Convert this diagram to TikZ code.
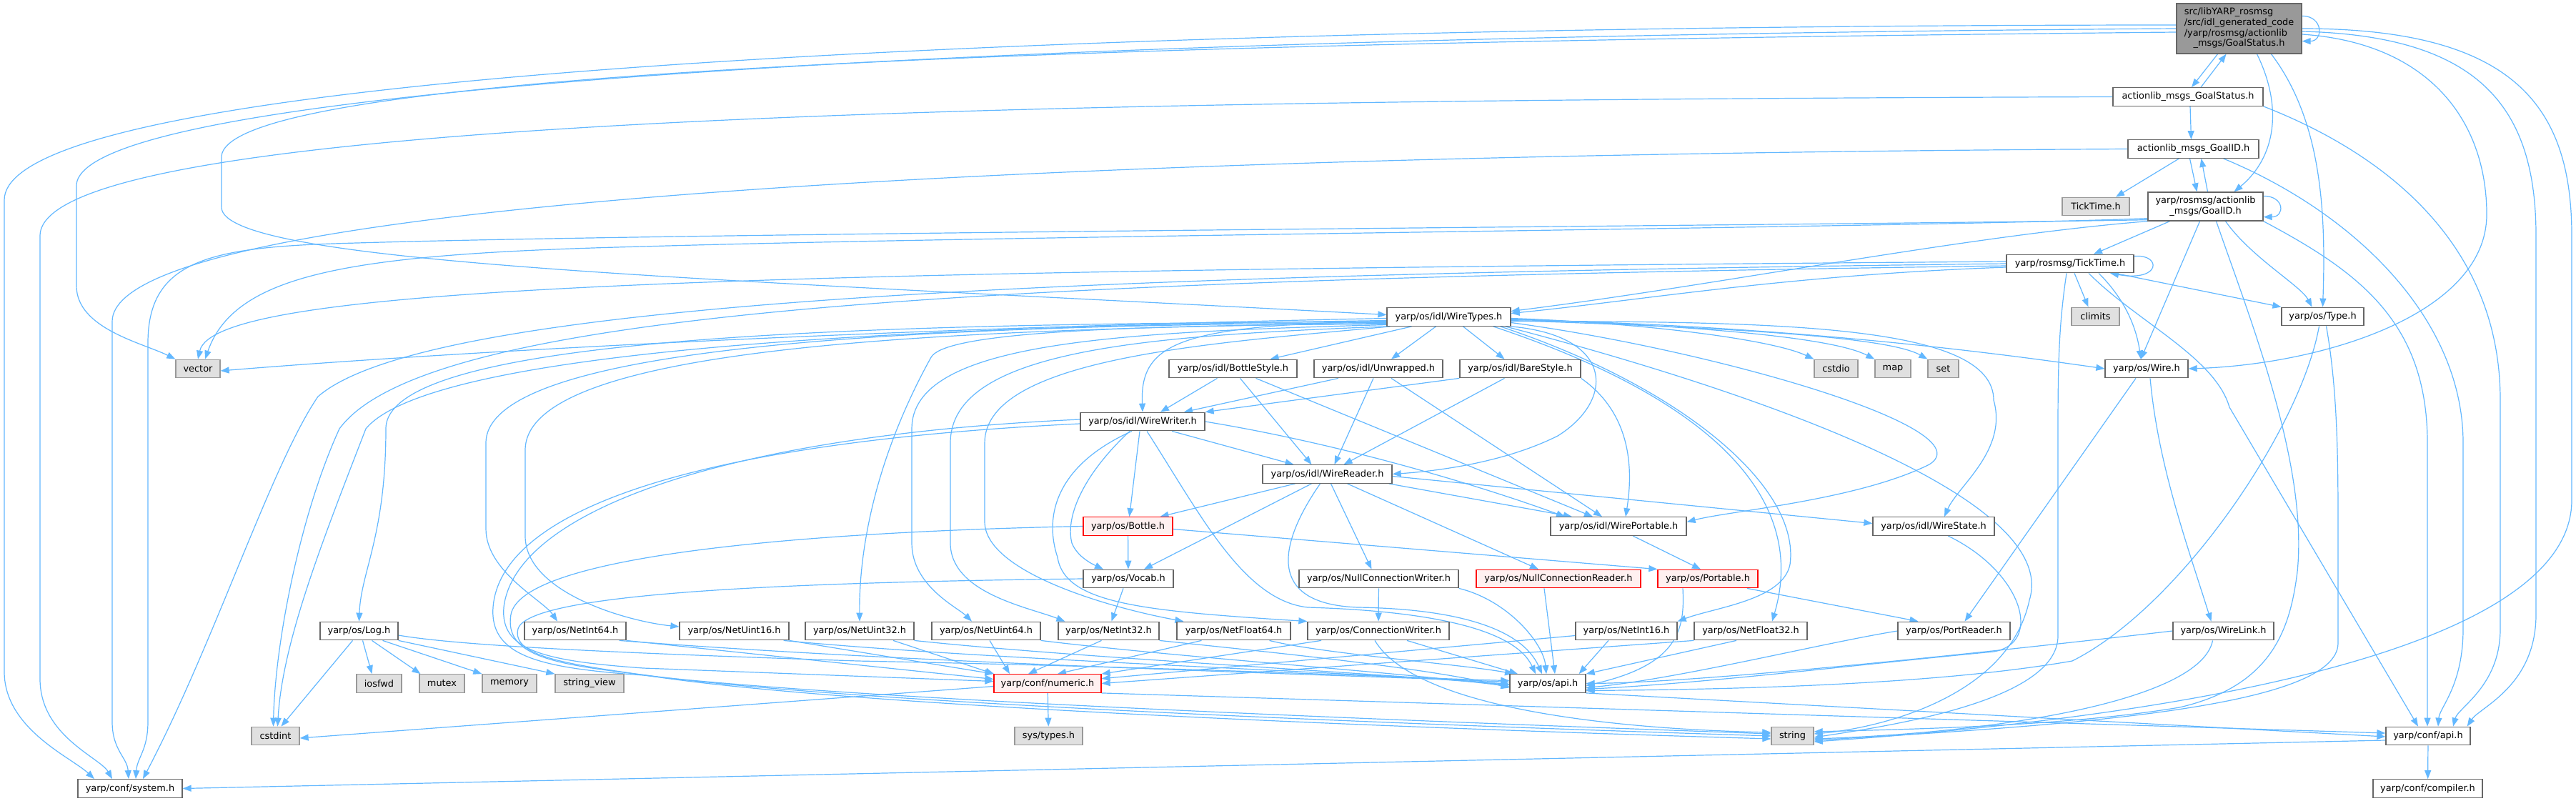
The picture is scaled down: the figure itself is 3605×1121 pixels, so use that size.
\documentclass[tikz,border=0pt]{standalone}
\usepackage{fontspec}
\setmainfont{DejaVu Sans}
\usetikzlibrary{arrows.meta}
\definecolor{edgec}{HTML}{63B8FF}
\definecolor{nodeb}{HTML}{666666}
\definecolor{extb}{HTML}{999999}
\definecolor{extf}{HTML}{E0E0E0}
\definecolor{rootf}{HTML}{999999}
\definecolor{truncf}{HTML}{FFF0F0}
\newcommand\grfont{\fontsize{12.9pt}{14.7pt}\selectfont}
\pgfdeclarelayer{bgl}
\pgfdeclarelayer{edgel}
\pgfsetlayers{bgl,edgel,main}
\tikzset{
 nbox/.style={draw=nodeb, fill=white, line width=1.3pt, minimum height=25.5pt, inner sep=0pt, font=\grfont, text=black},
 ext/.style={nbox, draw=extb, fill=extf},
 trunc/.style={nbox, draw=red, fill=truncf},
 rootbox/.style={nbox, fill=rootf},
 edge/.style={draw=edgec, line width=1.2pt, -{Triangle[length=12pt,width=9pt]}},
}
\begin{document}
\begin{tikzpicture}[x=1pt,y=-1pt]
\useasboundingbox (0,0) rectangle (3605,1121);
\begin{pgfonlayer}{bgl}
\fill[white] (0,0) rectangle (3605,1121);
\end{pgfonlayer}
% ---------- nodes ----------
\node[rootbox, minimum width=175pt, minimum height=70pt] (R) at (3133.5,40) {\begin{tabular}{@{}l@{}}src/libYARP\_rosmsg\\/src/idl\_generated\_code\\/yarp/rosmsg/actionlib\\\multicolumn{1}{@{}c@{}}{\_msgs/GoalStatus.h}\end{tabular}};
\node[nbox, minimum width=210pt] (actGS) at (3062,135.5) {actionlib\_msgs\_GoalStatus.h};
\node[nbox, minimum width=183pt] (actGID) at (3069.5,208.5) {actionlib\_msgs\_GoalID.h};
\node[ext, minimum width=94pt] (TTg) at (2933,289) {TickTime.h};
\node[nbox, minimum width=161pt, minimum height=40pt] (rGID) at (3086.5,289) {\begin{tabular}{@{}l@{}}yarp/rosmsg/actionlib\\\multicolumn{1}{@{}c@{}}{\_msgs/GoalID.h}\end{tabular}};
\node[nbox, minimum width=178pt] (rTT) at (2897,369) {yarp/rosmsg/TickTime.h};
\node[ext, minimum width=67pt] (climits) at (2932.5,443) {climits};
\node[nbox, minimum width=115pt] (Type) at (3250.5,443) {yarp/os/Type.h};
\node[ext, minimum width=61pt] (cstdio) at (2569.5,516) {cstdio};
\node[ext, minimum width=50pt] (map) at (2649,516) {map};
\node[ext, minimum width=43pt] (set) at (2719.5,516) {set};
\node[nbox, minimum width=116pt] (Wire) at (3004,516) {yarp/os/Wire.h};
\node[nbox, minimum width=173pt] (WT) at (2027.5,443.5) {yarp/os/idl/WireTypes.h};
\node[ext, minimum width=62pt] (vector) at (277,516) {vector};
\node[nbox, minimum width=179pt] (BS) at (1725.5,516) {yarp/os/idl/BottleStyle.h};
\node[nbox, minimum width=180pt] (UW) at (1929,516) {yarp/os/idl/Unwrapped.h};
\node[nbox, minimum width=169pt] (BaS) at (2127.5,516) {yarp/os/idl/BareStyle.h};
\node[nbox, minimum width=174pt] (WW) at (1599,590) {yarp/os/idl/WireWriter.h};
\node[nbox, minimum width=181pt] (WR) at (1857.5,663.5) {yarp/os/idl/WireReader.h};
\node[trunc, minimum width=125pt] (Bottle) at (1578.5,736.5) {yarp/os/Bottle.h};
\node[nbox, minimum width=190pt] (WP) at (2265,736.5) {yarp/os/idl/WirePortable.h};
\node[nbox, minimum width=170pt] (WS) at (2706,736.5) {yarp/os/idl/WireState.h};
\node[nbox, minimum width=126pt] (Vocab) at (1579,810) {yarp/os/Vocab.h};
\node[nbox, minimum width=223pt] (NCW) at (1929.5,810) {yarp/os/NullConnectionWriter.h};
\node[trunc, minimum width=230pt] (NCR) at (2181,810) {yarp/os/NullConnectionReader.h};
\node[trunc, minimum width=140pt] (Portable) at (2390,810) {yarp/os/Portable.h};
\node[nbox, minimum width=109pt] (Log) at (502.5,883) {yarp/os/Log.h};
\node[nbox, minimum width=142pt] (NI64) at (805,883) {yarp/os/NetInt64.h};
\node[nbox, minimum width=153pt] (NU16) at (1027.5,883) {yarp/os/NetUint16.h};
\node[nbox, minimum width=152pt] (NU32) at (1203,883) {yarp/os/NetUint32.h};
\node[nbox, minimum width=152pt] (NU64) at (1380,883) {yarp/os/NetUint64.h};
\node[nbox, minimum width=141pt] (NI32) at (1551.5,883) {yarp/os/NetInt32.h};
\node[nbox, minimum width=159pt] (NF64) at (1726.5,883) {yarp/os/NetFloat64.h};
\node[nbox, minimum width=198pt] (CW) at (1929,883) {yarp/os/ConnectionWriter.h};
\node[nbox, minimum width=142pt] (NI16) at (2276,883) {yarp/os/NetInt16.h};
\node[nbox, minimum width=158pt] (NF32) at (2450,883) {yarp/os/NetFloat32.h};
\node[nbox, minimum width=157pt] (PR) at (2734.5,883) {yarp/os/PortReader.h};
\node[nbox, minimum width=141pt] (WL) at (3111.5,883) {yarp/os/WireLink.h};
\node[ext, minimum width=63pt] (iosfwd) at (530.5,956.5) {iosfwd};
\node[ext, minimum width=63pt] (mutex) at (618.5,956.5) {mutex};
\node[ext, minimum width=76pt] (memory) at (713,956.5) {memory};
\node[ext, minimum width=96pt] (sview) at (825,956.5) {string\_view};
\node[trunc, minimum width=150pt] (numeric) at (1466,956.5) {yarp/conf/numeric.h};
\node[nbox, minimum width=106pt] (osapi) at (2166,956.5) {yarp/os/api.h};
\node[ext, minimum width=67pt] (cstdint) at (385.5,1030) {cstdint};
\node[ext, minimum width=95pt] (systypes) at (1467.5,1030) {sys/types.h};
\node[ext, minimum width=59pt] (string) at (2508.5,1030) {string};
\node[nbox, minimum width=118pt] (confapi) at (3398,1030) {yarp/conf/api.h};
\node[nbox, minimum width=146pt] (system) at (182,1103.5) {yarp/conf/system.h};
\node[nbox, minimum width=153pt] (compiler) at (3397.5,1103.5) {yarp/conf/compiler.h};
% ---------- edges ----------
\begin{pgfonlayer}{edgel}
% root
\draw[edge] ([xshift=-30pt]R.south) -- ([xshift=5pt]actGS.north);
\draw[edge] ([xshift=18pt]actGS.north) -- ([xshift=-18pt]R.south);
\draw[edge] ([xshift=25pt]R.south) .. controls (3195,150) and (3185,220) .. ([xshift=40pt]rGID.north);
\draw[edge] ([xshift=45pt]R.south) .. controls (3250,170) and (3255,300) .. (Type.north);
\draw[edge] ([yshift=-18pt]R.north east) .. controls +(30,0) and +(30,0) .. ([yshift=18pt]R.south east);
\draw[edge] ([yshift=-8pt]R.east) .. controls (3400,60) and (3480,170) .. (3480,300) .. controls (3480,440) and (3250,510) .. (Wire.east);
\draw[edge] ([yshift=-4pt]R.east) .. controls (3470,50) and (3549,150) .. (3549,330) -- (3549,860) .. controls (3549,960) and (3470,990) .. ([xshift=-5pt]confapi.north east);
\draw[edge] (R.east) .. controls (3520,40) and (3599,150) .. (3599,330) -- (3599,700) .. controls (3599,900) and (3100,1000) .. ([yshift=-8pt]string.east);
\draw[edge] ([yshift=5pt]R.west) .. controls (2000,35) and (6,70) .. (6,280) -- (6,940) .. controls (6,1020) and (100,1060) .. ([xshift=-50pt]system.north);
\draw[edge] (R.west) .. controls (1600,50) and (107,110) .. (107,260) -- (107,400) .. controls (107,460) and (200,480) .. (vector.north west);
\draw[edge] ([yshift=-5pt]R.west) .. controls (1500,60) and (310,100) .. (310,220) -- (310,290) .. controls (310,370) and (1000,390) .. ([yshift=3pt]WT.west);
% actionlib_msgs_GoalStatus.h
\draw[edge] ([xshift=3pt]actGS.south) -- ([xshift=-3pt]actGID.north);
\draw[edge] (actGS.west) .. controls (1500,140) and (56,160) .. (56,330) -- (56,950) .. controls (56,1030) and (140,1060) .. ([xshift=-25pt]system.north);
\draw[edge] (actGS.south east) .. controls (3350,220) and (3499,350) .. (3499,560) -- (3499,880) .. controls (3499,960) and (3440,990) .. ([xshift=35pt]confapi.north);
% actionlib_msgs_GoalID.h
\draw[edge] ([xshift=-20pt]actGID.south) -- ([xshift=28pt]TTg.north);
\draw[edge] ([xshift=-5pt]actGID.south) -- ([xshift=-12pt]rGID.north);
\draw[edge] (actGID.west) .. controls (1800,215) and (157,260) .. (157,450) -- (157,1010) .. controls (157,1050) and (178,1060) .. ([xshift=-2pt]system.north);
\draw[edge] ([xshift=42pt]actGID.south) .. controls (3300,300) and (3447,450) .. (3447,620) -- (3447,880) .. controls (3447,960) and (3414,990) .. ([xshift=14pt]confapi.north);
% yarp/rosmsg/actionlib_msgs/GoalID.h
\draw[edge] ([xshift=3pt]rGID.north) -- ([xshift=11pt]actGID.south);
\draw[edge] ([yshift=-6pt]rGID.north east) .. controls +(30,0) and +(30,0) .. ([yshift=6pt]rGID.south east);
\draw[edge] ([xshift=-50pt]rGID.south) -- ([xshift=33pt]rTT.north);
\draw[edge] ([xshift=-8pt]rGID.south) -- ([xshift=-8pt]Wire.north);
\draw[edge] ([xshift=28pt]rGID.south) .. controls (3150,360) and (3220,400) .. ([xshift=-15pt]Type.north);
\draw[edge] ([xshift=15pt]rGID.south) .. controls (3150,450) and (3230,650) .. (3215,800) .. controls (3205,880) and (3180,960) .. (3050,990) .. controls (2900,1015) and (2700,1020) .. ([yshift=6pt]string.east);
\draw[edge] (rGID.south east) .. controls (3300,380) and (3397,450) .. (3397,620) -- ([xshift=-1pt]confapi.north);
\draw[edge] (rGID.south west) .. controls (2750,330) and (2400,400) .. ([yshift=8pt]WT.east);
\draw[edge] ([yshift=4pt]rGID.south west) .. controls (2700,318) and (1400,330) .. (900,345) .. controls (500,355) and (330,380) .. ([xshift=10pt]vector.north);
\draw[edge] ([yshift=2pt]rGID.south west) .. controls (2600,315) and (1000,325) .. (500,340) .. controls (300,345) and (207,360) .. (207,480) -- (207,1010) .. controls (207,1050) and (192,1060) .. ([xshift=8pt]system.north);
% yarp/rosmsg/TickTime.h
\draw[edge] ([yshift=-3pt]rTT.north east) .. controls (3025,355) and (3025,395) .. ([xshift=56pt]rTT.south);
\draw[edge] ([xshift=6pt]rTT.south) -- ([xshift=-10pt]climits.north);
\draw[edge] ([xshift=63pt]rTT.south) -- (Type.north west);
\draw[edge] ([xshift=40pt]rTT.south) .. controls (2975,420) and (2990,460) .. ([xshift=-8pt]Wire.north);
\draw[edge] ([xshift=-5pt]rTT.south) .. controls (2882,450) and (2880,500) .. (2880,600) -- (2880,890) .. controls (2880,980) and (2650,1015) .. ([yshift=-2pt]string.east);
\draw[edge] ([xshift=26pt]rTT.south) .. controls (2990,450) and (3100,500) .. (3120,570) -- ([xshift=-14pt]confapi.north);
\draw[edge] ([yshift=-5pt]rTT.west) .. controls (2500,385) and (2300,420) .. ([yshift=5pt]WT.east);
\draw[edge] ([yshift=3pt]rTT.west) .. controls (1000,380) and (300,400) .. (vector.north);
\draw[edge] (rTT.west) .. controls (1500,385) and (600,420) .. (445,555) .. controls (380,650) and (300,900) .. ([xshift=18pt]system.north);
\draw[edge] ([yshift=-3pt]rTT.west) .. controls (1400,392) and (600,430) .. (475,600) .. controls (420,720) and (385,900) .. ([xshift=-3pt]cstdint.north);
% Type.h
\draw[edge] ([xshift=-5pt]Type.south) .. controls (3220,600) and (3050,850) .. (2900,925) .. controls (2700,960) and (2400,965) .. ([yshift=-10pt]osapi.east);
\draw[edge] ([xshift=5pt]Type.south) .. controls (3272,550) and (3272,650) .. (3272,750) -- (3272,900) .. controls (3272,990) and (2900,1015) .. ([yshift=-6pt]string.east);
% Wire.h
\draw[edge] ([xshift=-15pt]Wire.south) -- ([xshift=15pt]PR.north);
\draw[edge] ([xshift=5pt]Wire.south) .. controls (3020,650) and (3060,760) .. ([xshift=-17pt]WL.north);
\draw[edge] (WL.west) .. controls (2850,905) and (2400,955) .. (osapi.east);
\draw[edge] ([xshift=-15pt]WL.south) .. controls (3080,980) and (2800,1025) .. ([yshift=-4pt]string.east);
\draw[edge] (PR.west) .. controls (2550,900) and (2350,950) .. ([yshift=-6pt]osapi.east);
\draw[edge] ([xshift=55pt]Portable.south) -- ([xshift=-50pt]PR.north);
\draw[edge] ([xshift=-35pt]Portable.south) .. controls (2358,880) and (2350,930) .. ([yshift=-3pt]osapi.east);
\draw[edge] ([xshift=20pt]WP.south) -- ([xshift=-10pt]Portable.north);
\draw[edge] ([xshift=20pt]WS.south) .. controls (2830,800) and (2860,900) .. (2790,912) .. controls (2600,930) and (2400,955) .. ([yshift=-8pt]osapi.east);
\draw[edge] ([xshift=-20pt]NCR.south) -- ([xshift=10pt]osapi.north);
\draw[edge] (NCW) -- (CW);
\draw[edge] (NCW.south east) .. controls (2110,840) and (2160,900) .. ([xshift=-2pt]osapi.north);
\draw[edge] ([xshift=-80pt]CW.south) -- (numeric.north east);
\draw[edge] ([xshift=40pt]CW.south) -- ([xshift=-42pt]osapi.north);
\draw[edge] ([xshift=-5pt]CW.south) .. controls (1980,990) and (2250,1020) .. ([yshift=5pt]string.west);
% Bottle, Vocab
\draw[edge] (Bottle) -- (Vocab);
\draw[edge] ([yshift=-4pt]Bottle.east) -- (Portable.north west);
\draw[edge] (Bottle.west) .. controls (1100,745) and (730,780) .. (715,860) .. controls (705,920) and (780,930) .. (905,945) .. controls (1200,985) and (2000,1015) .. (string.west);
\draw[edge] ([xshift=-7pt]Vocab.south) -- ([xshift=4pt]NI32.north);
\draw[edge] (Vocab.west) .. controls (1100,815) and (740,830) .. (725,880) .. controls (715,920) and (800,930) .. (910,946) .. controls (1200,990) and (2000,1020) .. ([yshift=-4pt]string.west);
% WireWriter
\draw[edge] ([xshift=41pt]WW.south) -- ([xshift=-47pt]WR.north);
\draw[edge] ([xshift=-4pt]WW.south) -- ([xshift=2pt]Bottle.north);
\draw[edge] ([xshift=-18pt]WW.south) .. controls (1520,660) and (1490,720) .. (1500,760) .. controls (1508,780) and (1530,790) .. ([xshift=-35pt]Vocab.north);
\draw[edge] (WW.east) .. controls (1900,625) and (2100,690) .. ([xshift=-75pt]WP.north);
\draw[edge] ([xshift=-15pt]WW.south) .. controls (1480,650) and (1460,720) .. (1480,780) .. controls (1490,845) and (1600,855) .. (CW.north west);
\draw[edge] ([xshift=6pt]WW.south) .. controls (1680,720) and (1740,840) .. (1830,850) .. controls (2000,855) and (2120,880) .. ([xshift=-17pt]osapi.north);
\draw[edge] ([yshift=3pt]WW.west) .. controls (1000,610) and (720,720) .. (705,850) .. controls (700,910) and (760,925) .. (900,935) -- ([yshift=3pt]numeric.west);
\draw[edge] ([yshift=-3pt]WW.west) .. controls (950,620) and (700,720) .. (690,850) .. controls (685,920) and (760,935) .. (900,945) .. controls (1200,980) and (2000,1010) .. ([yshift=3pt]string.west);
% WireReader
\draw[edge] ([xshift=-45pt]WR.south) -- ([xshift=45pt]Bottle.north);
\draw[edge] ([xshift=-22pt]WR.south) -- ([xshift=22pt]Vocab.north);
\draw[edge] ([xshift=-5pt]WR.south east) -- ([xshift=-65pt]WP.north);
\draw[edge] ([yshift=-3pt]WR.east) -- ([yshift=4pt]WS.west);
\draw[edge] ([xshift=28pt]WR.south) -- ([xshift=-28pt]NCR.north);
\draw[edge] ([xshift=5pt]WR.south) -- ([xshift=-10pt]NCW.north);
\draw[edge] ([xshift=-10pt]WR.south) .. controls (1790,760) and (1770,845) .. (1900,850) .. controls (2040,852) and (2130,880) .. ([xshift=-8pt]osapi.north);
% styles
\draw[edge] ([xshift=-22pt]BS.south) -- ([xshift=25pt]WW.north);
\draw[edge] ([xshift=10pt]BS.south) -- ([xshift=-22pt]WR.north);
\draw[edge] ([xshift=32pt]BS.south) -- ([xshift=-36pt]WP.north);
\draw[edge] ([xshift=-56pt]UW.south) -- ([xshift=58pt]WW.north);
\draw[edge] ([xshift=-7pt]UW.south) -- ([xshift=10pt]WR.north);
\draw[edge] ([xshift=18pt]UW.south) -- ([xshift=-23pt]WP.north);
\draw[edge] (BaS.south west) -- (WW.north east);
\draw[edge] ([xshift=-22pt]BaS.south) -- ([xshift=23pt]WR.north);
\draw[edge] (BaS.south east) .. controls (2285,580) and (2285,660) .. ([xshift=10pt]WP.north);
% WireTypes
\draw[edge] ([xshift=-52pt]WT.south) -- ([xshift=52pt]BS.north);
\draw[edge] ([xshift=-18pt]WT.south) -- ([xshift=18pt]UW.north);
\draw[edge] ([xshift=20pt]WT.south) -- ([xshift=-22pt]BaS.north);
\draw[edge] ([yshift=-6pt]WT.west) .. controls (1650,455) and (1595,480) .. (WW.north);
\draw[edge] (WT.south east) .. controls (2260,470) and (2260,560) .. (2180,610) .. controls (2100,650) and (2000,660) .. (WR.east);
\draw[edge] ([yshift=-8pt]WT.east) .. controls (2400,490) and (2780,600) .. (2700,650) .. controls (2600,700) and (2420,715) .. ([yshift=6pt]WP.east);
\draw[edge] ([yshift=-6pt]WT.east) .. controls (2500,450) and (2790,455) .. (2790,560) .. controls (2810,630) and (2740,680) .. ([xshift=15pt]WS.north);
\draw[edge] ([yshift=-2pt]WT.east) .. controls (2300,452) and (2480,475) .. (cstdio.north west);
\draw[edge] ([yshift=-3pt]WT.east) .. controls (2350,455) and (2560,470) .. (map.north west);
\draw[edge] ([yshift=-5pt]WT.east) .. controls (2400,458) and (2640,470) .. (set.north west);
\draw[edge] ([yshift=-4pt]WT.east) .. controls (2500,455) and (2800,495) .. (Wire.west);
\draw[edge] ([xshift=-8pt]WT.south east) .. controls (2350,520) and (2890,680) .. (2840,840) .. controls (2810,980) and (2620,1020) .. ([yshift=3pt]string.east);
\draw[edge] ([xshift=-15pt]WT.south east) .. controls (2350,540) and (2520,680) .. (2505,790) .. controls (2495,840) and (2400,850) .. (NI16.north east);
\draw[edge] ([xshift=-25pt]WT.south east) .. controls (2400,560) and (2530,700) .. ([xshift=30pt]NF32.north);
\draw[edge] ([yshift=-2pt]WT.west) .. controls (1200,460) and (600,495) .. ([yshift=-3pt]vector.east);
\draw[edge] ([yshift=-5pt]WT.west) .. controls (1500,455) and (620,470) .. (512,600) .. controls (450,760) and (395,900) .. ([xshift=3pt]cstdint.north);
\draw[edge] ([yshift=-7pt]WT.west) .. controls (1200,452) and (540,470) .. (540,600) .. controls (540,750) and (505,800) .. (Log.north);
\draw[edge] ([yshift=-8pt]WT.west) .. controls (1300,455) and (680,480) .. (680,620) -- (680,740) .. controls (680,800) and (760,840) .. ([xshift=-25pt]NI64.north);
\draw[edge] ([yshift=-9pt]WT.west) .. controls (1300,460) and (735,485) .. (735,630) -- (735,750) .. controls (735,830) and (880,870) .. ([yshift=6pt]NU16.west);
\draw[edge] ([yshift=-10pt]WT.west) .. controls (1500,455) and (1320,470) .. (1303,500) .. controls (1220,650) and (1202,780) .. (NU32.north);
\draw[edge] ([yshift=-11pt]WT.west) .. controls (1550,465) and (1276,480) .. (1276,600) -- (1276,760) .. controls (1276,820) and (1340,850) .. ([xshift=-20pt]NU64.north);
\draw[edge] (WT.south west) .. controls (1600,470) and (1330,490) .. (1330,620) -- (1330,760) .. controls (1330,830) and (1440,850) .. ([xshift=10pt]NI32.north west);
\draw[edge] ([xshift=5pt]WT.south west) .. controls (1700,480) and (1378,500) .. (1378,620) -- (1378,730) .. controls (1378,800) and (1550,850) .. ([xshift=10pt]NF64.north west);
% Log
\draw[edge] ([xshift=5pt]Log.south) -- ([xshift=-10pt]iosfwd.north);
\draw[edge] ([xshift=18pt]Log.south) -- ([xshift=-30pt]mutex.north);
\draw[edge] ([xshift=33pt]Log.south) -- (memory.north west);
\draw[edge] (Log.south east) -- (sview.north west);
\draw[edge] ([xshift=-9pt]Log.south) -- ([xshift=8pt]cstdint.north);
\draw[edge] ([yshift=-6pt]Log.east) .. controls (650,905) and (900,915) .. (1200,925) .. controls (1700,935) and (2000,950) .. ([yshift=4pt]osapi.west);
% Net*
\draw[edge] (NI64.south east) -- ([yshift=6pt]numeric.west);
\draw[edge] ([xshift=-10pt]NI64.south east) .. controls (1300,930) and (1900,945) .. ([yshift=2pt]osapi.west);
\draw[edge] (NU16.south east) -- (numeric.north west);
\draw[edge] ([xshift=-8pt]NU16.south east) .. controls (1400,925) and (1900,940) .. ([yshift=-1pt]osapi.west);
\draw[edge] ([xshift=47pt]NU32.south) -- ([xshift=-75pt]numeric.north);
\draw[edge] (NU32.south east) .. controls (1500,920) and (1900,940) .. ([yshift=-2pt]osapi.west);
\draw[edge] ([xshift=5pt]NU64.south) -- ([xshift=-53pt]numeric.north);
\draw[edge] (NU64.south east) .. controls (1650,920) and (1950,940) .. ([yshift=-4pt]osapi.west);
\draw[edge] ([xshift=-10pt]NI32.south) -- ([xshift=-27pt]numeric.north);
\draw[edge] (NI32.south east) .. controls (1800,915) and (2000,935) .. ([yshift=-6pt]osapi.west);
\draw[edge] ([xshift=-45pt]NF64.south) -- ([xshift=14pt]numeric.north);
\draw[edge] ([xshift=50pt]NF64.south) .. controls (1850,915) and (2050,930) .. ([xshift=-48pt]osapi.north);
\draw[edge] (NI16) -- (numeric);
\draw[edge] ([xshift=-25pt]NI16.south) -- ([xshift=-10pt]osapi.north east);
\draw[edge] (NF32.south west) -- (numeric.east);
\draw[edge] ([xshift=-20pt]NF32.south) -- (osapi.north east);
% conf
\draw[edge] (numeric) -- (systypes);
\draw[edge] ([yshift=-4pt]numeric.west) -- ([yshift=-3pt]cstdint.east);
\draw[edge] (numeric.south east) -- ([yshift=4pt]confapi.west);
\draw[edge] (osapi.south east) -- ([yshift=-1pt]confapi.west);
\draw[edge] ([yshift=-6pt]confapi.west) -- (system.east);
\draw[edge] (confapi) -- (compiler);
\end{pgfonlayer}
\end{tikzpicture}
\end{document}
